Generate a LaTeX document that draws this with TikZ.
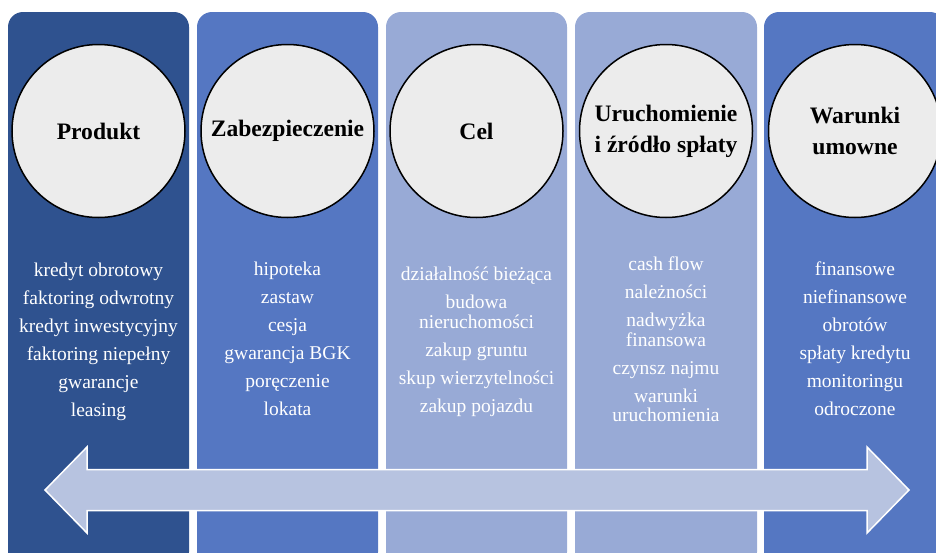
\documentclass[tikz,border=0pt]{standalone}
\usepackage{fontspec}
\setmainfont{Liberation Serif}
\usetikzlibrary{positioning}
\definecolor{darkblue}{RGB}{47,82,143}
\definecolor{midblue}{RGB}{85,119,194}
\definecolor{paleblue}{RGB}{152,170,214}
\definecolor{headgray}{RGB}{236,236,236}
\definecolor{arrowblue}{RGB}{183,195,224}

\begin{document}
\begin{tikzpicture}[x=1pt,y=-1pt,
		column/.style={rounded corners=15pt},
		head/.style={circle, draw=black, line width=1.5pt, fill=headgray, minimum size=173pt, inner sep=0pt, align=center, font=\fontsize{23.6}{30}\selectfont\bfseries},
		items/.style={text=white, align=center, font=\fontsize{19.5}{28}\selectfont}]
		\useasboundingbox (0,0) rectangle (936,552);
		\clip (0,0) rectangle (936,552);
		
		% columns
		\fill[darkblue, column] (8,12) rectangle (189,567);
		\fill[midblue, column] (197,12) rectangle (378,567);
		\fill[paleblue, column] (386,12) rectangle (567,567);
		\fill[paleblue, column] (575,12) rectangle (757,567);
		\fill[midblue, column] (764,12) rectangle (945,567);
		
		% circles
		\node[head] (prodhead) at (98.5,131) {Produkt};
		\node[head] (zabhead) at (287.5,131) {Zabezpieczenie};
		\node[head] (celhead) at (476.5,131) {Cel};
		\node[head] (uruchead) at (666,131) {Uruchomienie\\[1pt]i źródło spłaty};
		\node[head] (warhead) at (855,131) {Warunki\\[1pt]umowne};
		
		% lists
		\node[items] (prodlist) at (98.5,341.5) {kredyt obrotowy\\faktoring odwrotny\\kredyt inwestycyjny\\faktoring niepełny\\gwarancje\\leasing};
		\node[items] (zablist) at (287.5,339) {hipoteka\\zastaw\\cesja\\gwarancja BGK\\poręczenie\\lokata};
		\node[items] (cellist) at (476.5,342) {działalność bieżąca\\budowa\\[-8.5pt]nieruchomości\\zakup gruntu\\skup wierzytelności\\zakup pojazdu};
		\node[items] (uruclist) at (666,339.5) {cash flow\\należności\\nadwyżka\\[-8.5pt]finansowa\\czynsz najmu\\warunki\\[-8.5pt]uruchomienia};
		\node[items] (warlist) at (855,339) {finansowe\\niefinansowe\\obrotów\\spłaty kredytu\\monitoringu\\odroczone};
		
		% double arrow
		\draw[fill=arrowblue, draw=white, line width=1.5pt] (45,490)--(87,447)--(87,469.5)--(867,469.5)--(867,447)--(909,490)--(867,533)--(867,510.5)--(87,510.5)--(87,533)--cycle;
	\end{tikzpicture}
\end{document}
